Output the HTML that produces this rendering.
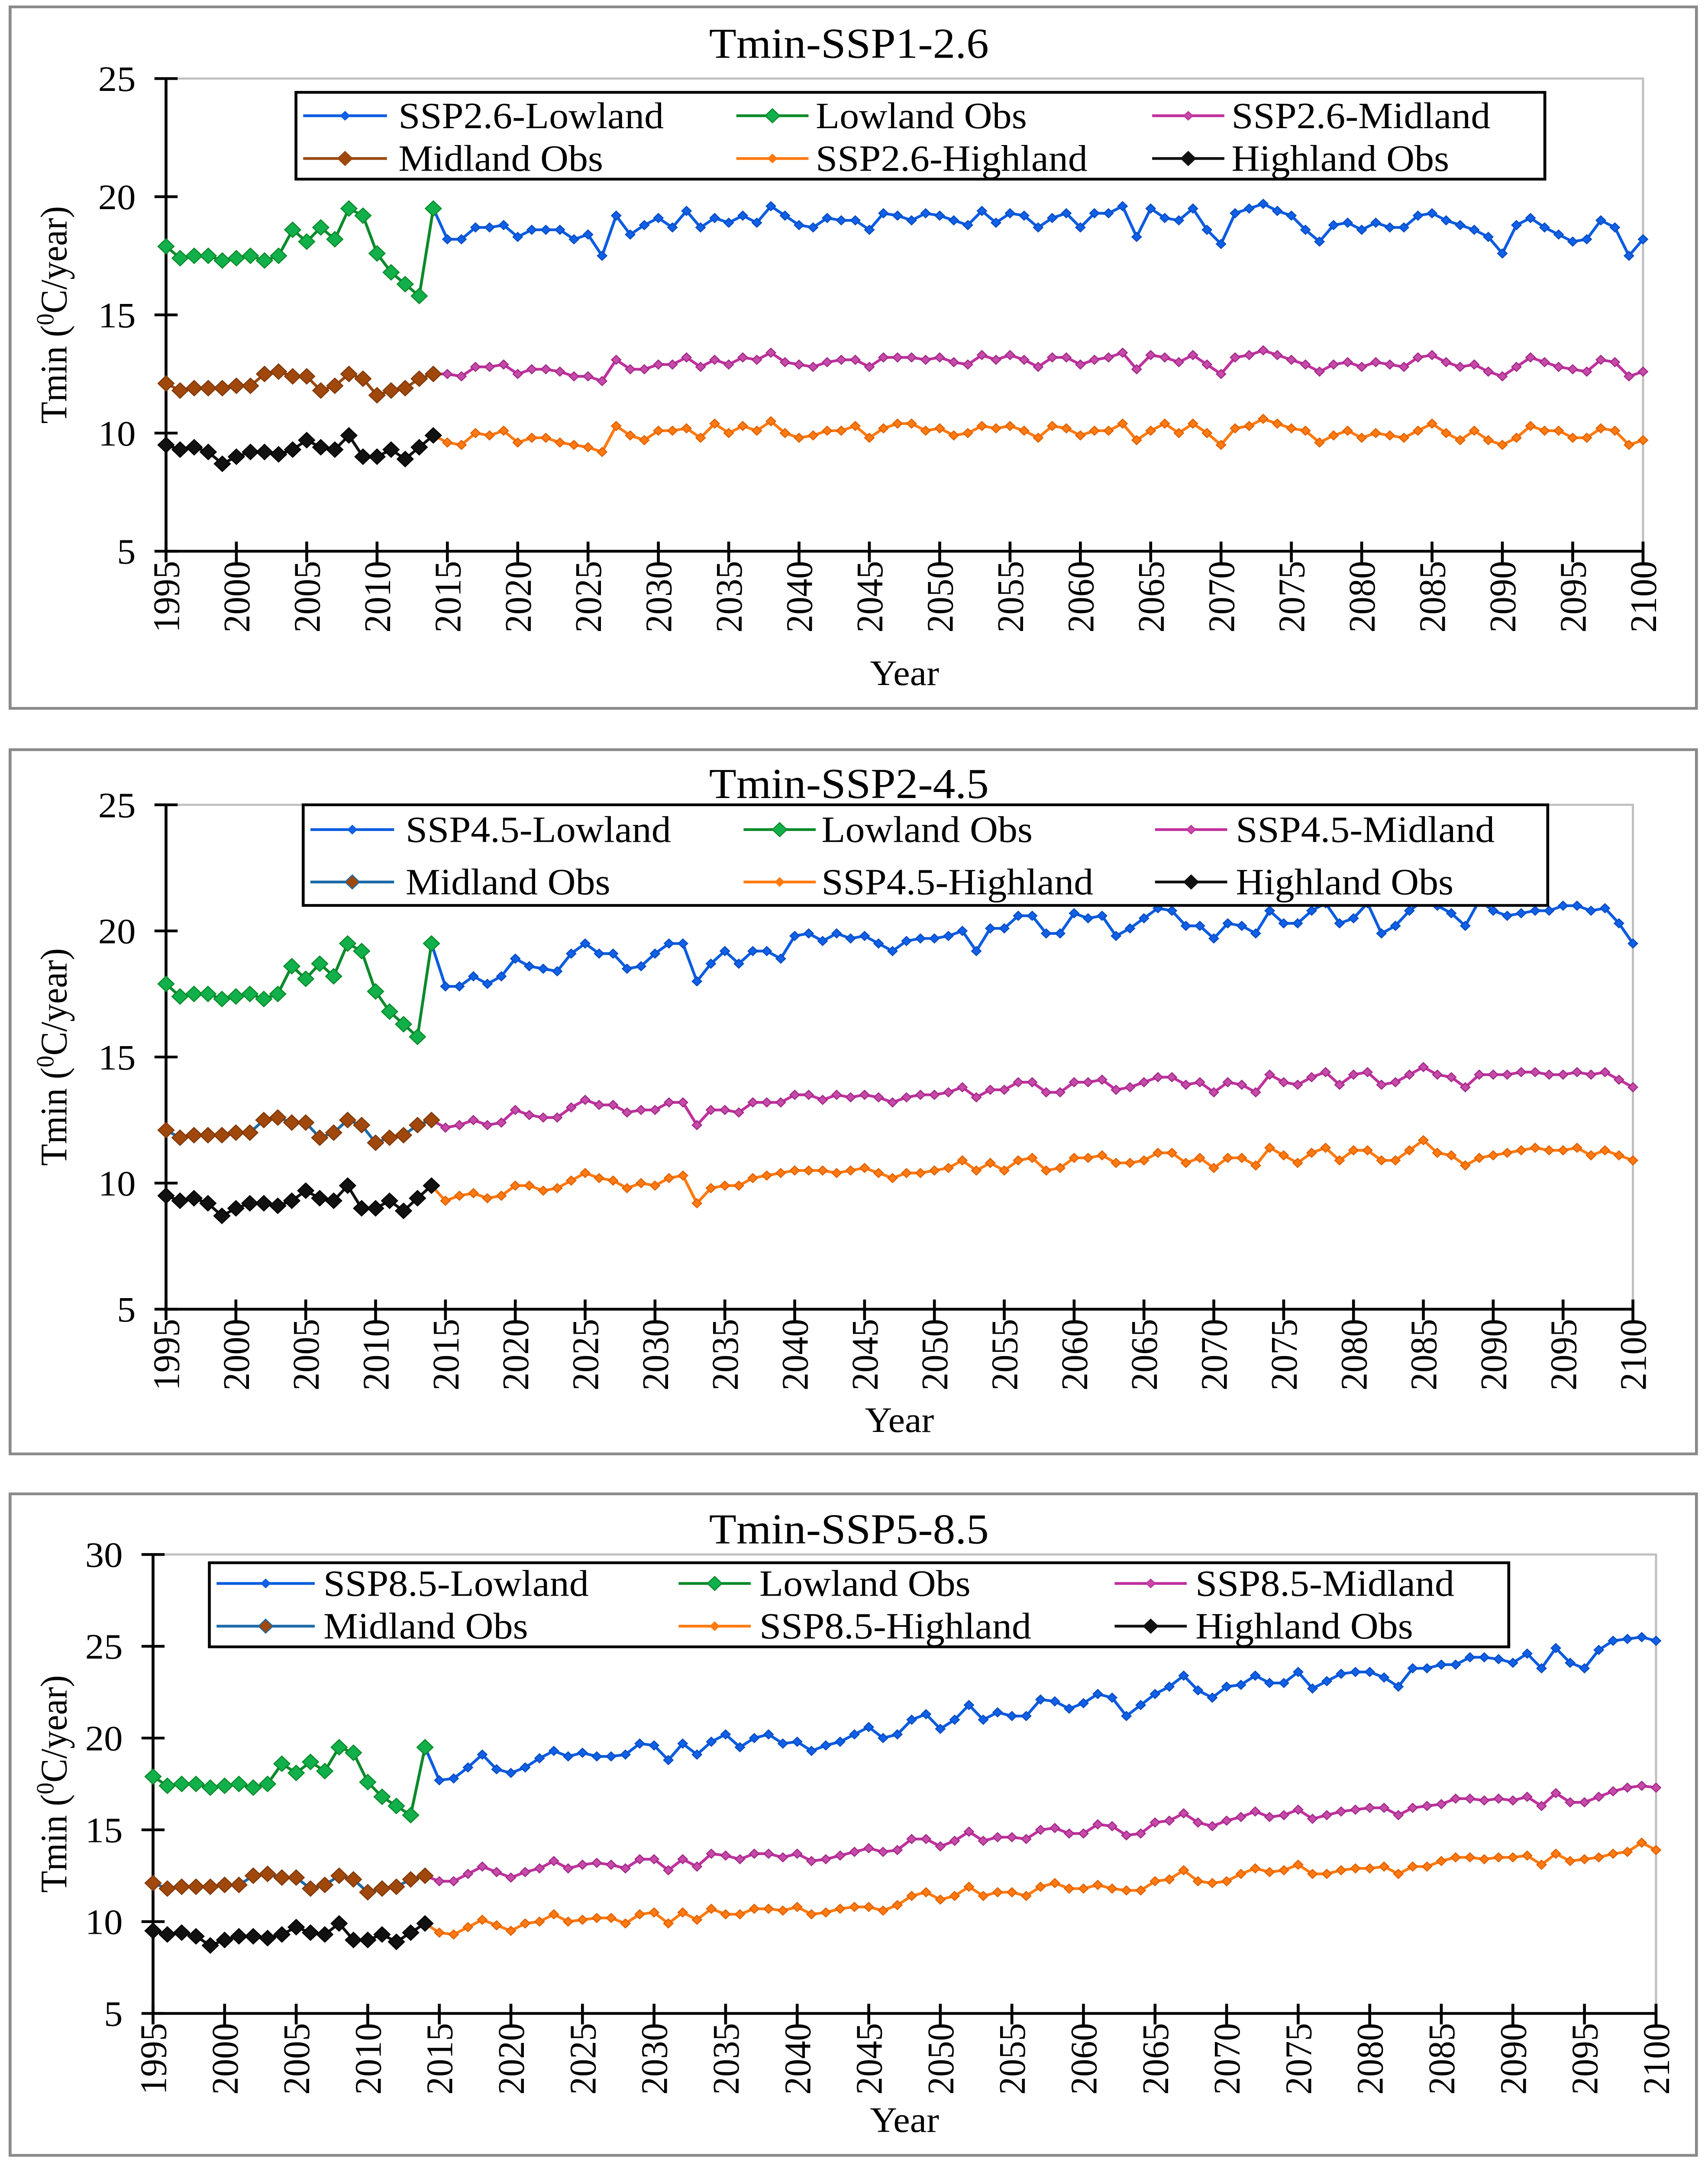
<!DOCTYPE html>
<html><head><meta charset="utf-8"><style>
html,body{margin:0;padding:0;background:#fff;width:100%;height:100%;overflow:hidden;}
svg{display:block;width:100vw;height:100vh;}
text{font-family:"Liberation Serif","Times New Roman",serif;fill:#000;}
</style></head>
<body>
<svg id="chart" viewBox="0 0 1183 1571" preserveAspectRatio="none" xmlns="http://www.w3.org/2000/svg"></svg>
<script>
const obsYears0 = 1995;
const projYear0 = 2014;
const lowObs = [17.9,17.4,17.5,17.5,17.3,17.4,17.5,17.3,17.5,18.6,18.1,18.7,18.2,19.5,19.2,17.6,16.8,16.3,15.8,19.5];
const midObs = [12.1,11.8,11.9,11.9,11.9,12.0,12.0,12.5,12.6,12.4,12.4,11.8,12.0,12.5,12.3,11.6,11.8,11.9,12.3,12.5];
const highObs = [9.5,9.3,9.4,9.2,8.7,9.0,9.2,9.2,9.1,9.3,9.7,9.4,9.3,9.9,9.0,9.0,9.3,8.9,9.4,9.9];

const p1Low = [19.5,18.2,18.2,18.7,18.7,18.8,18.3,18.6,18.6,18.6,18.2,18.4,17.5,19.2,18.4,18.8,19.1,18.7,19.4,18.7,19.1,18.9,19.2,18.9,19.6,19.2,18.8,18.7,19.1,19.0,19.0,18.6,19.3,19.2,19.0,19.3,19.2,19.0,18.8,19.4,18.9,19.3,19.2,18.7,19.1,19.3,18.7,19.3,19.3,19.6,18.3,19.5,19.1,19.0,19.5,18.6,18.0,19.3,19.5,19.7,19.4,19.2,18.6,18.1,18.8,18.9,18.6,18.9,18.7,18.7,19.2,19.3,19.0,18.8,18.6,18.3,17.6,18.8,19.1,18.7,18.4,18.1,18.2,19.0,18.7,17.5,18.2];
const p1Mid = [12.5,12.5,12.4,12.8,12.8,12.9,12.5,12.7,12.7,12.6,12.4,12.4,12.2,13.1,12.7,12.7,12.9,12.9,13.2,12.8,13.1,12.9,13.2,13.1,13.4,13.0,12.9,12.8,13.0,13.1,13.1,12.8,13.2,13.2,13.2,13.1,13.2,13.0,12.9,13.3,13.1,13.3,13.1,12.8,13.2,13.2,12.9,13.1,13.2,13.4,12.7,13.3,13.2,13.0,13.3,12.9,12.5,13.2,13.3,13.5,13.3,13.1,12.9,12.6,12.9,13.0,12.8,13.0,12.9,12.8,13.2,13.3,13.0,12.8,12.9,12.6,12.4,12.8,13.2,13.0,12.8,12.7,12.6,13.1,13.0,12.4,12.6];
const p1High = [9.9,9.6,9.5,10.0,9.9,10.1,9.6,9.8,9.8,9.6,9.5,9.4,9.2,10.3,9.9,9.7,10.1,10.1,10.2,9.8,10.4,10.0,10.3,10.1,10.5,10.0,9.8,9.9,10.1,10.1,10.3,9.8,10.2,10.4,10.4,10.1,10.2,9.9,10.0,10.3,10.2,10.3,10.1,9.8,10.3,10.2,9.9,10.1,10.1,10.4,9.7,10.1,10.4,10.0,10.4,10.0,9.5,10.2,10.3,10.6,10.4,10.2,10.1,9.6,9.9,10.1,9.8,10.0,9.9,9.8,10.1,10.4,10.0,9.7,10.1,9.7,9.5,9.8,10.3,10.1,10.1,9.8,9.8,10.2,10.1,9.5,9.7];

const p2Low = [19.5,17.8,17.8,18.2,17.9,18.2,18.9,18.6,18.5,18.4,19.1,19.5,19.1,19.1,18.5,18.6,19.1,19.5,19.5,18.0,18.7,19.2,18.7,19.2,19.2,18.9,19.8,19.9,19.6,19.9,19.7,19.8,19.5,19.2,19.6,19.7,19.7,19.8,20.0,19.2,20.1,20.1,20.6,20.6,19.9,19.9,20.7,20.5,20.6,19.8,20.1,20.5,20.9,20.8,20.2,20.2,19.7,20.3,20.2,19.9,20.8,20.3,20.3,20.8,21.1,20.3,20.5,21.1,19.9,20.2,20.8,21.2,21.0,20.7,20.2,21.2,20.8,20.6,20.7,20.8,20.8,21.0,21.0,20.8,20.9,20.3,19.5];
const p2Mid = [12.5,12.2,12.3,12.5,12.3,12.4,12.9,12.7,12.6,12.6,13.0,13.3,13.1,13.1,12.8,12.9,12.9,13.2,13.2,12.3,12.9,12.9,12.8,13.2,13.2,13.2,13.5,13.5,13.3,13.5,13.4,13.5,13.4,13.2,13.4,13.5,13.5,13.6,13.8,13.4,13.7,13.7,14.0,14.0,13.6,13.6,14.0,14.0,14.1,13.7,13.8,14.0,14.2,14.2,13.9,14.0,13.6,14.0,13.9,13.6,14.3,14.0,13.9,14.2,14.4,13.9,14.3,14.4,13.9,14.0,14.3,14.6,14.3,14.2,13.8,14.3,14.3,14.3,14.4,14.4,14.3,14.3,14.4,14.3,14.4,14.1,13.8];
const p2High = [9.9,9.3,9.5,9.6,9.4,9.5,9.9,9.9,9.7,9.8,10.1,10.4,10.2,10.1,9.8,10.0,9.9,10.2,10.3,9.2,9.8,9.9,9.9,10.2,10.3,10.4,10.5,10.5,10.5,10.4,10.5,10.6,10.4,10.2,10.4,10.4,10.5,10.6,10.9,10.5,10.8,10.5,10.9,11.0,10.5,10.6,11.0,11.0,11.1,10.8,10.8,10.9,11.2,11.2,10.8,11.0,10.6,11.0,11.0,10.7,11.4,11.1,10.8,11.2,11.4,10.9,11.3,11.3,10.9,10.9,11.3,11.7,11.2,11.1,10.7,11.0,11.1,11.2,11.3,11.4,11.3,11.3,11.4,11.1,11.3,11.1,10.9];

const p3Low = [19.5,17.7,17.8,18.4,19.1,18.3,18.1,18.4,18.9,19.3,19.0,19.2,19.0,19.0,19.1,19.7,19.6,18.8,19.7,19.1,19.8,20.2,19.5,20.0,20.2,19.7,19.8,19.3,19.6,19.8,20.2,20.6,20.0,20.2,21.0,21.3,20.5,21.0,21.8,21.0,21.4,21.2,21.2,22.1,22.0,21.6,21.9,22.4,22.2,21.2,21.8,22.4,22.8,23.4,22.6,22.2,22.8,22.9,23.4,23.0,23.0,23.6,22.7,23.1,23.5,23.6,23.6,23.3,22.8,23.8,23.8,24.0,24.0,24.4,24.4,24.3,24.1,24.6,23.8,24.9,24.1,23.8,24.8,25.3,25.4,25.5,25.3];
const p3Mid = [12.5,12.2,12.2,12.6,13.0,12.7,12.4,12.7,12.9,13.3,12.9,13.1,13.2,13.1,12.9,13.4,13.4,12.8,13.4,13.0,13.7,13.6,13.4,13.7,13.7,13.5,13.7,13.3,13.4,13.6,13.8,14.0,13.8,13.9,14.5,14.5,14.1,14.4,14.9,14.4,14.6,14.6,14.5,15.0,15.1,14.8,14.8,15.3,15.2,14.7,14.8,15.4,15.5,15.9,15.4,15.2,15.5,15.7,16.0,15.7,15.8,16.1,15.6,15.8,16.0,16.1,16.2,16.2,15.8,16.2,16.3,16.4,16.7,16.7,16.6,16.7,16.6,16.8,16.3,17.0,16.5,16.5,16.8,17.1,17.3,17.4,17.3];
const p3High = [9.9,9.4,9.3,9.7,10.1,9.8,9.5,9.9,10.0,10.4,10.0,10.1,10.2,10.2,9.9,10.4,10.5,9.9,10.5,10.1,10.7,10.4,10.4,10.7,10.7,10.6,10.8,10.4,10.5,10.7,10.8,10.8,10.6,10.9,11.4,11.6,11.2,11.4,11.9,11.4,11.6,11.6,11.4,11.9,12.1,11.8,11.8,12.0,11.8,11.7,11.7,12.2,12.3,12.8,12.2,12.1,12.2,12.6,12.9,12.7,12.8,13.1,12.6,12.6,12.8,12.9,12.9,13.0,12.6,13.0,13.0,13.3,13.5,13.5,13.4,13.5,13.5,13.6,13.1,13.7,13.3,13.4,13.5,13.7,13.8,14.3,13.9];

const xTicks = [1995,2000,2005,2010,2015,2020,2025,2030,2035,2040,2045,2050,2055,2060,2065,2070,2075,2080,2085,2090,2095,2100];

const C = {blue:'#0a5ce0', green:'#0a8a2a', greenFill:'#12b04a', mag:'#c0309e', brown:'#9a4a10', orange:'#ff7a10', black:'#111'};
const NS='http://www.w3.org/2000/svg';
const svg=document.getElementById('chart');
function mk(tag,attrs,parent){const e=document.createElementNS(NS,tag);for(const k in attrs)e.setAttribute(k,attrs[k]);(parent||svg).appendChild(e);return e;}

const panels=[
 {key:'p1',title:'Tmin-SSP1-2.6',box:[7,5,1168,509],titleY:42,x0:115,x1:1138,yTop:57,yBot:400,ymin:5,ymax:25,yticks:[5,10,15,20,25],yearY:497,
  low:p1Low,mid:p1Mid,high:p1High,tag:'SSP2.6',midObsLine:C.brown,
  leg:{x:205,y:67,w:865,h:63,rows:[84,115],cols:[[210,268,276],[510,560,565],[798,848,853]]}},
 {key:'p2',title:'Tmin-SSP2-4.5',box:[7,544,1168,511],titleY:579,x0:115,x1:1131,yTop:584,yBot:950,ymin:5,ymax:25,yticks:[5,10,15,20,25],yearY:1039,
  low:p2Low,mid:p2Mid,high:p2High,tag:'SSP4.5',midObsLine:'#1a6aa8',
  leg:{x:210,y:584,w:862,h:73,rows:[602,640],cols:[[215,273,281],[515,565,569],[800,850,856]]}},
 {key:'p3',title:'Tmin-SSP5-8.5',box:[7,1084,1168,480],titleY:1120,x0:106,x1:1147,yTop:1128,yBot:1461,ymin:5,ymax:30,yticks:[5,10,15,20,25,30],yearY:1547,
  low:p3Low,mid:p3Mid,high:p3High,tag:'SSP8.5',midObsLine:'#1a6aa8',
  leg:{x:145,y:1134,w:900,h:61,rows:[1149,1180],cols:[[150,218,224],[470,520,526],[772,822,828]]}}
];

function diamond(g,x,y,r,fill,stroke){
  return mk('path',{d:`M${x},${y-r}L${x+r},${y}L${x},${y+r}L${x-r},${y}Z`,fill:fill,stroke:stroke,'stroke-width':0.8},g);
}

panels.forEach(P=>{
  const g=mk('g',{});
  
  
  const b=P.box;
  const fr=mk('rect',{x:b[0],y:b[1],width:b[2],height:b[3],fill:'#fff',stroke:'#8a8a8a','stroke-width':2},g);
  
  
  const t=mk('text',{x:588,y:P.titleY,'text-anchor':'middle','font-size':31},g);t.textContent=P.title;
  
  
  const xs=yr=>P.x0+(yr-1995)*(P.x1-P.x0)/105;
  const ys=v=>P.yBot-(v-P.ymin)*(P.yBot-P.yTop)/(P.ymax-P.ymin);
  const pa=mk('path',{d:`M${P.x0},${P.yTop}H${P.x1}V${P.yBot}`,fill:'none',stroke:'#bfbfbf','stroke-width':1.5},g);
  
  
  const ya=mk('line',{x1:P.x0,y1:P.yTop,x2:P.x0,y2:P.yBot,stroke:'#000','stroke-width':2},g);
  
  
  const xa=mk('line',{x1:P.x0,y1:P.yBot,x2:P.x1,y2:P.yBot,stroke:'#000','stroke-width':2},g);
  
  
  P.yticks.forEach(v=>{
    mk('line',{x1:P.x0-8,x2:P.x0+8,y1:ys(v),y2:ys(v),stroke:'#000','stroke-width':2},g);
    const tl=mk('text',{x:P.x0-21,y:ys(v)+9,'text-anchor':'end','font-size':26},g);tl.textContent=v;
    
    
  });
  xTicks.forEach(yr=>{
    mk('line',{x1:xs(yr),x2:xs(yr),y1:P.yBot-7,y2:P.yBot+8,stroke:'#000','stroke-width':2},g);
    const tl=mk('text',{x:0,y:0,'text-anchor':'end','font-size':26,transform:`translate(${xs(yr)+9},${P.yBot+7}) rotate(-90)`},g);tl.textContent=yr;
    
    
  });
  const xt=mk('text',{x:(P.x0+P.x1)/2,y:P.yearY,'text-anchor':'middle','font-size':26},g);xt.textContent='Year';
  
  
  const yt=mk('text',{x:0,y:0,'text-anchor':'middle','font-size':26,transform:`translate(46,${(P.yTop+P.yBot)/2}) rotate(-90)`},g);
  yt.innerHTML='Tmin (<tspan dy="-9" font-size="17">0</tspan><tspan dy="9">C/year)</tspan>';
  
  

  function series(vals,start,lineCol,mFill,mStroke,r,name){
    const sg=mk('g',{},g);
    
    
    const pts=vals.map((v,i)=>[xs(start+i),ys(v)]);
    mk('polyline',{points:pts.map(p=>p.join(',')).join(' '),fill:'none',stroke:lineCol,'stroke-width':2},sg);
    pts.forEach(p=>diamond(sg,p[0],p[1],r,mFill,mStroke));
  }
  series(P.low,projYear0,C.blue,'#1060e8','#0a4cc0',3.2,'series-lowland-proj');
  series(P.mid,projYear0,C.mag,'#c84aa8','#a02a88',3.2,'series-midland-proj');
  series(P.high,projYear0,C.orange,'#ff7a10','#e06000',3.2,'series-highland-proj');
  series(lowObs,obsYears0,C.green,C.greenFill,C.green,5.5,'series-lowland-obs');
  series(midObs,obsYears0,P.midObsLine,'#a0480c','#80380a',5.5,'series-midland-obs');
  series(highObs,obsYears0,C.black,'#111','#000',5.5,'series-highland-obs');

  const L=P.leg;
  const lg=mk('g',{},g);
  
  
  mk('rect',{x:L.x,y:L.y,width:L.w,height:L.h,fill:'#fff',stroke:'#000','stroke-width':2},lg);
  const entries=[
    [P.tag+'-Lowland',C.blue,'#1060e8',3],['Lowland Obs',C.green,C.greenFill,5],[P.tag+'-Midland',C.mag,'#c84aa8',3],
    ['Midland Obs',P.midObsLine,'#a0480c',5],[P.tag+'-Highland',C.orange,'#ff7a10',3],['Highland Obs',C.black,'#111',5]];
  entries.forEach((e,i)=>{
    const row=Math.floor(i/3),col=i%3,c=L.cols[col],y=L.rows[row];
    const eg=mk('g',{},lg);
    
    
    mk('line',{x1:c[0],x2:c[1],y1:y,y2:y,stroke:e[1],'stroke-width':2},eg);
    diamond(eg,(c[0]+c[1])/2,y,e[3],e[2],e[1]);
    const tx=mk('text',{x:c[2],y:y+9,'font-size':27},eg);tx.textContent=e[0];
  });
});
</script>
</body></html>
